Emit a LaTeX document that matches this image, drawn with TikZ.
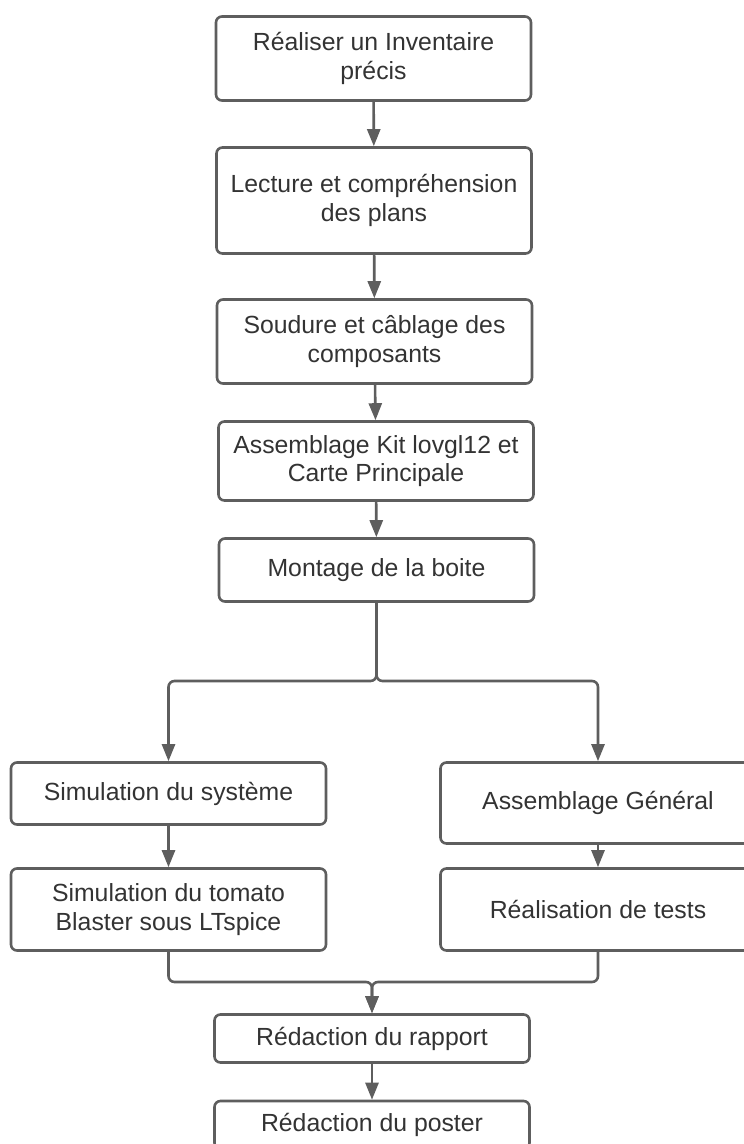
\documentclass[tikz,border=0pt]{standalone}
\usepackage{fontspec}
\setmainfont{Liberation Sans}
\usetikzlibrary{arrows.meta}
\definecolor{linegray}{HTML}{5E5E5E}
\definecolor{textgray}{HTML}{333333}
\tikzset{
    stepbox/.style={draw=linegray, line width=2.6pt, rounded corners=6pt, minimum width=315pt,
        inner sep=0pt, align=center, text=textgray, font=\fontsize{24.8}{28.5}\selectfont},
    flow/.style={draw=linegray, line width=2.6pt, rounded corners=6pt, -{Triangle[length=17pt, width=13pt]}},
}
\begin{document}
\begin{tikzpicture}[x=1pt, y=-1pt]
        \clip (0, 0) rectangle (744, 1144);

        \node[stepbox, minimum height=84pt] (IN) at (373.5, 58.5) {Réaliser un Inventaire\\précis};
        \node[stepbox, minimum height=106pt] (LP) at (374, 200.5) {Lecture et compréhension\\des plans};
        \node[stepbox, minimum height=84pt] (SC) at (374.5, 341.5) {Soudure et câblage des\\composants};
        \node[stepbox, minimum height=79pt] (AK) at (376, 461) {Assemblage Kit lovgl12 et\\Carte Principale};
        \node[stepbox, minimum height=63pt] (MB) at (376.5, 570) {Montage de la boite};
        \node[stepbox, minimum height=62pt] (SS) at (168.5, 793.5) {Simulation du système};
        \node[stepbox, minimum height=82pt] (ST) at (168.5, 909.5) {Simulation du tomato\\Blaster sous LTspice};
        \node[stepbox, minimum height=81pt] (AG) at (598, 803) {Assemblage Général};
        \node[stepbox, minimum height=82pt] (RT) at (598, 909.5) {Réalisation de tests};
        \node[stepbox, minimum height=48pt] (RR) at (372, 1038.5) {Rédaction du rapport};
        \node[stepbox, minimum height=48pt] (RP) at (372, 1125) {Rédaction du poster};

        \coordinate (fork) at (376.5, 681);
        \coordinate (join) at (372, 982);

        \draw[flow] (IN) -- (LP);
        \draw[flow] (LP) -- (SC);
        \draw[flow] (SC) -- (AK);
        \draw[flow] (AK) -- (MB);
        \draw[flow] (MB) -- (fork) -| (SS);
        \draw[flow] (MB) -- (fork) -| (AG);
        \draw[flow] (SS) -- (ST);
        \draw[flow] (AG) -- (RT);
        \draw[flow] (ST) |- (join) -- (RR);
        \draw[flow] (RT) |- (join) -- (RR);
        \draw[flow] (RR) -- (RP);
    \end{tikzpicture}
\end{document}
